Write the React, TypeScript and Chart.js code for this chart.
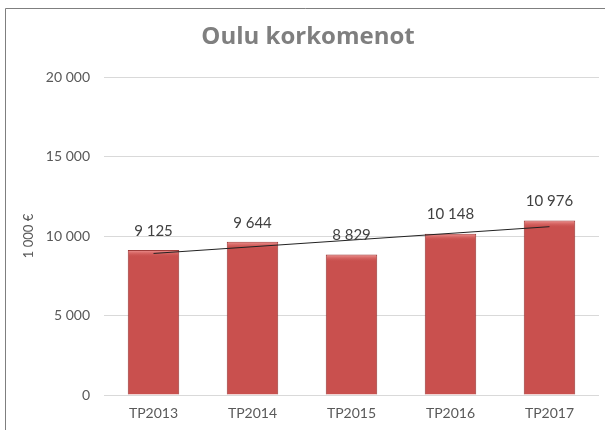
import React, { useEffect, useRef } from "react";
import { Chart, registerables } from "chart.js";

Chart.register(...registerables);

const categories = ["TP2013", "TP2014", "TP2015", "TP2016", "TP2017"];
const values = [9125, 9644, 8829, 10148, 10976];
const trendValues = [8903, null, null, null, 10586];
const yTicks = [0, 5000, 10000, 15000, 20000];
const titleText = "Oulu korkomenot";
const yAxisTitle = "1 000 €";

const FONT = "Lato, 'Open Sans', sans-serif";
const TITLE_FONT = "'Open Sans', sans-serif";

function fmt(v: number): string {
  const s = Math.round(v).toString();
  return s.replace(/\B(?=(\d{3})+(?!\d))/g, " ");
}

const decorPlugin = {
  id: "decor",
  beforeDraw(chart: any) {
    const ctx = chart.ctx;
    ctx.save();
    ctx.fillStyle = "#ffffff";
    ctx.fillRect(0, 0, chart.width, chart.height);
    ctx.strokeStyle = "#7f7f7f";
    ctx.lineWidth = 1;
    ctx.beginPath();
    ctx.moveTo(5.5, chart.height);
    ctx.lineTo(5.5, 8.5);
    ctx.lineTo(chart.width, 8.5);
    ctx.stroke();
    ctx.restore();
  },
  afterDatasetDraw(chart: any, args: any) {
    if (args.index !== 1) return;
    const ctx = chart.ctx;
    ctx.save();
    args.meta.data.forEach((bar: any) => {
      const x0 = bar.x - bar.width / 2 + 1;
      const w = bar.width - 2;
      const g = ctx.createLinearGradient(0, bar.y, 0, bar.y + 7);
      g.addColorStop(0, "rgba(245,160,158,0.95)");
      g.addColorStop(1, "rgba(205,83,81,0)");
      ctx.fillStyle = g;
      ctx.fillRect(x0, bar.y + 1, w, 7);
    });
    ctx.restore();
  },
  afterDraw(chart: any) {
    const ctx = chart.ctx;
    const area = chart.chartArea;
    ctx.save();
    ctx.fillStyle = "#7f7f7f";
    ctx.font = `bold 24px ${TITLE_FONT}`;
    ctx.textAlign = "center";
    ctx.textBaseline = "middle";
    ctx.fillText(titleText, 308, 37);

    ctx.fillStyle = "#595959";
    ctx.font = `13px ${FONT}`;
    ctx.translate(29, (area.top + area.bottom) / 2);
    ctx.rotate(-Math.PI / 2);
    ctx.fillText(yAxisTitle, 0, 0);
    ctx.restore();

    const meta = chart.getDatasetMeta(1);
    ctx.save();
    ctx.fillStyle = "#404040";
    ctx.font = `15px ${FONT}`;
    ctx.textAlign = "center";
    ctx.textBaseline = "middle";
    meta.data.forEach((bar: any, i: number) => {
      ctx.fillText(fmt(values[i]), bar.x, bar.y - 19);
    });
    ctx.restore();
  },
};

export default function App() {
  const ref = useRef<HTMLCanvasElement>(null);
  useEffect(() => {
    document.body.style.margin = "0";
    const canvas = ref.current!;
    const chart = new Chart(canvas, {
      type: "bar",
      data: {
        labels: categories,
        datasets: [
          {
            type: "line",
            label: "Trend",
            data: trendValues as any,
            borderColor: "#222222",
            borderWidth: 1,
            pointRadius: 0,
            spanGaps: true,
            fill: false,
            order: 0,
          } as any,
          {
            type: "bar",
            label: "Korkomenot",
            data: values,
            barPercentage: 0.52,
            categoryPercentage: 1,
            order: 1,
            borderColor: "#983634",
            borderWidth: 1,
            backgroundColor: (c: any) => {
              const el = c.element;
              const chartCtx = c.chart.ctx;
              if (!el || el.width === undefined) return "#c9504e";
              const x0 = el.x - el.width / 2;
              const x1 = el.x + el.width / 2;
              const g = chartCtx.createLinearGradient(x0, 0, x1, 0);
              g.addColorStop(0, "#b34442");
              g.addColorStop(0.12, "#cd5351");
              g.addColorStop(0.85, "#cc5250");
              g.addColorStop(1, "#a53d3b");
              return g;
            },
          },
        ],
      },
      options: {
        animation: false,
        responsive: false,
        layout: { padding: { top: 77, right: 6, left: 0, bottom: 0 } },
        plugins: {
          legend: { display: false },
          tooltip: { enabled: false },
          title: { display: false },
        },
        scales: {
          x: {
            grid: { display: false, drawTicks: false },
            border: { display: false },
            ticks: {
              color: "#595959",
              font: { family: FONT, size: 14 },
              padding: 10,
            },
            afterFit: (s: any) => {
              s.height = 35;
            },
          },
          y: {
            min: 0,
            max: 20000,
            afterBuildTicks: (s: any) => {
              s.ticks = yTicks.map((v) => ({ value: v }));
            },
            grid: { color: "#d9d9d9", drawTicks: false },
            border: { display: false },
            ticks: {
              color: "#595959",
              font: { family: FONT, size: 14 },
              padding: 14,
              callback: (v: any) => fmt(Number(v)),
            },
            afterFit: (s: any) => {
              s.width = 104;
            },
          },
        },
      },
      plugins: [decorPlugin],
    });
    return () => chart.destroy();
  }, []);
  return <canvas ref={ref} width={605} height={430} style={{ display: "block" }} />;
}
